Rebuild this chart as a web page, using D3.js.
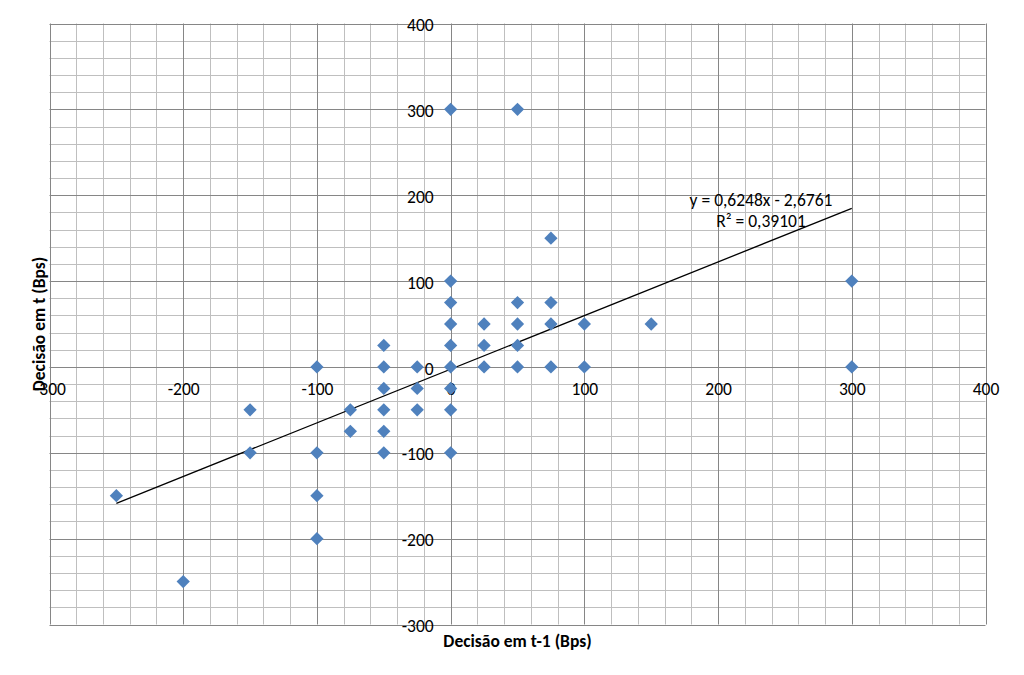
<!DOCTYPE html>
<html>
<head>
<meta charset="utf-8">
<script src="https://cdn.jsdelivr.net/npm/d3@7"></script>
<style>
  html, body { margin: 0; padding: 0; background: #ffffff; }
  svg { display: block; }
  text { font-family: Carlito, Lato, "Open Sans", sans-serif; fill: #000; }
</style>
</head>
<body>
<svg id="chart" width="1024" height="675"></svg>
<script>
// ---- data ----
const xValues = [0, 50, 75, 0, 300, 0, 50, 75, 0, 25, 50, 75, 100, 150,
  -50, 0, 25, 50,
  -100, -50, -25, 0, 25, 50, 75, 100, 300,
  -50, -25, 0,
  -150, -75, -50, -25, 0,
  -75, -50,
  -150, -100, -50, 0,
  -250, -100,
  -100,
  -200];
const yValues = [300, 300, 150, 100, 100, 75, 75, 75, 50, 50, 50, 50, 50, 50,
  25, 25, 25, 25,
  0, 0, 0, 0, 0, 0, 0, 0, 0,
  -25, -25, -25,
  -50, -50, -50, -50, -50,
  -75, -75,
  -100, -100, -100, -100,
  -150, -150,
  -200,
  -250];
const xTickLabels = [-300, -200, -100, 0, 100, 200, 300, 400];
const yTickLabels = [-300, -200, -100, 0, 100, 200, 300, 400];
const trendSlope = 0.6248;
const trendIntercept = -2.6761;
const trendLabel = ["y = 0,6248x - 2,6761", "R² = 0,39101"];
const xTitle = "Decisão em t-1 (Bps)";
const yTitle = "Decisão em t (Bps)";

const points = xValues.map((x, i) => ({ x, y: yValues[i] }));

// ---- layout ----
const svg = d3.select("#chart");
const pLeft = 49.5, pRight = 985.5, pTop = 23.5, pBottom = 624.5;
const x = d3.scaleLinear().domain([-300, 400]).range([pLeft, pRight]);
const y = d3.scaleLinear().domain([-300, 400]).range([pBottom, pTop]);
const fs = "17.5px";

const minorColor = "#BFBFBF", majorColor = "#868686";

// grid
const minorTicks = d3.range(-300, 401, 20).filter(v => v % 100 !== 0);
const majorTicks = d3.range(-300, 401, 100);
const grid = svg.append("g");
grid.selectAll(".vmin").data(minorTicks).join("line")
  .attr("x1", d => Math.round(x(d)) + 0.5).attr("x2", d => Math.round(x(d)) + 0.5)
  .attr("y1", pTop).attr("y2", pBottom).attr("stroke", minorColor).attr("stroke-width", 1);
grid.selectAll(".hmin").data(minorTicks).join("line")
  .attr("y1", d => Math.round(y(d)) + 0.5).attr("y2", d => Math.round(y(d)) + 0.5)
  .attr("x1", pLeft).attr("x2", pRight).attr("stroke", minorColor).attr("stroke-width", 1);
grid.selectAll(".vmaj").data(majorTicks).join("line")
  .attr("x1", d => Math.round(x(d)) + 0.5).attr("x2", d => Math.round(x(d)) + 0.5)
  .attr("y1", pTop).attr("y2", pBottom).attr("stroke", majorColor).attr("stroke-width", 1);
grid.selectAll(".hmaj").data(majorTicks).join("line")
  .attr("y1", d => Math.round(y(d)) + 0.5).attr("y2", d => Math.round(y(d)) + 0.5)
  .attr("x1", pLeft).attr("x2", pRight).attr("stroke", majorColor).attr("stroke-width", 1);

// axes (labels only, crossing at 0)
const xAxis = d3.axisBottom(x).tickValues(xTickLabels).tickSize(0).tickPadding(16)
  .tickFormat(d => String(d));
const gx = svg.append("g").attr("transform", `translate(0,${y(0)})`).call(xAxis);
gx.select(".domain").remove();
gx.selectAll("text").style("font-size", fs).style("font-family", null).attr("fill", "#000");

const yAxis = d3.axisLeft(y).tickValues(yTickLabels).tickSize(0).tickPadding(17)
  .tickFormat(d => String(d));
const gy = svg.append("g").attr("transform", `translate(${x(0)},1.5)`).call(yAxis);
gy.select(".domain").remove();
gy.selectAll("text").style("font-size", fs).attr("fill", "#000");
gx.attr("font-family", null); gy.attr("font-family", null);

// trendline
const xr = d3.extent(xValues);
svg.append("line")
  .attr("x1", x(xr[0])).attr("y1", y(trendSlope * xr[0] + trendIntercept))
  .attr("x2", x(xr[1])).attr("y2", y(trendSlope * xr[1] + trendIntercept))
  .attr("stroke", "#000").attr("stroke-width", 1.3);

// points
const diamond = d3.symbol().type(d3.symbolSquare).size(88);
svg.append("g").selectAll("path").data(points).join("path")
  .attr("d", diamond)
  .attr("transform", d => `translate(${x(d.x)},${y(d.y)}) rotate(45)`)
  .attr("fill", "#4F81BD");

// trend label
svg.append("text").attr("x", 761).attr("y", 206).attr("text-anchor", "middle")
  .style("font-size", fs).text(trendLabel[0]);
svg.append("text").attr("x", 761).attr("y", 227).attr("text-anchor", "middle")
  .style("font-size", fs).text(trendLabel[1]);

// axis titles
svg.append("text").attr("x", (pLeft + pRight) / 2).attr("y", 647).attr("text-anchor", "middle")
  .style("font-size", fs).style("font-weight", "bold").text(xTitle);
svg.append("text").attr("transform", `translate(45,${(pTop + pBottom) / 2}) rotate(-90)`)
  .attr("text-anchor", "middle")
  .style("font-size", fs).style("font-weight", "bold").text(yTitle);
</script>
</body>
</html>
